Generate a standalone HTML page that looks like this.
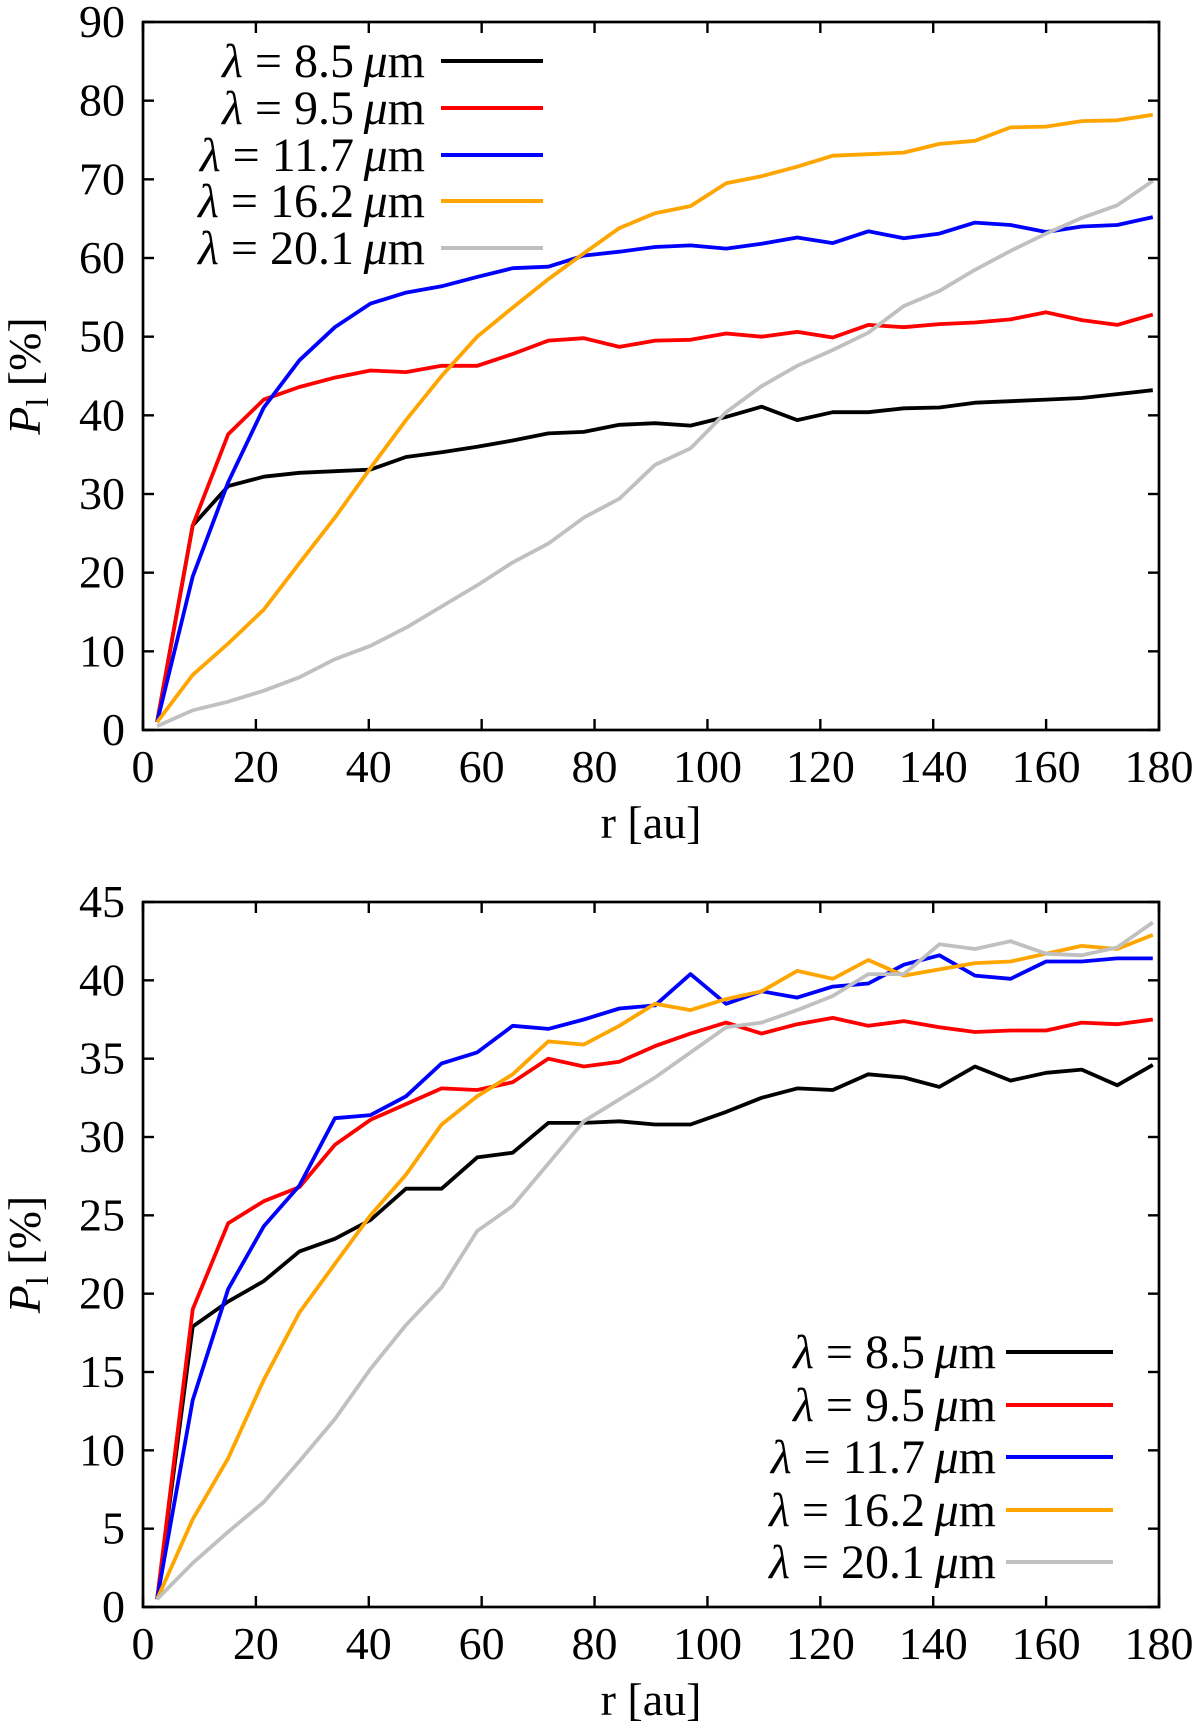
<!DOCTYPE html>
<html><head><meta charset="utf-8"><style>
html,body{margin:0;padding:0;background:#fff}
svg text{font-family:"Liberation Serif",serif;fill:#000}
</style></head><body>
<svg id="fig" width="1200" height="1724" viewBox="0 0 1200 1724" xmlns="http://www.w3.org/2000/svg"></svg>
<script>
const rVals=[2.5,8.8,15.1,21.4,27.7,34,40.3,46.6,52.9,59.2,65.5,71.8,78.1,84.4,90.7,97,103.3,109.6,115.9,122.2,128.5,134.8,141.1,147.4,153.7,160,166.3,172.6,178.9];
const seriesNames=["8.5","9.5","11.7","16.2","20.1"];
const seriesColors=["#000000","#ff0000","#0000ff","#ffa500","#c0c0c0"];
const xTicks=[0,20,40,60,80,100,120,140,160,180];
const topYTicks=[0,10,20,30,40,50,60,70,80,90];
const botYTicks=[0,5,10,15,20,25,30,35,40,45];
const top85=[1,26,31,32.2,32.7,32.9,33.1,34.7,35.3,36,36.8,37.7,37.9,38.8,39,38.7,39.8,41.1,39.4,40.4,40.4,40.9,41,41.6,41.8,42,42.2,42.7,43.2];
const top95=[1,26,37.6,42,43.6,44.8,45.7,45.5,46.3,46.3,47.8,49.5,49.8,48.7,49.5,49.6,50.4,50,50.6,49.9,51.5,51.2,51.6,51.8,52.2,53.1,52.1,51.5,52.8];
const top117=[1,19.5,31.5,41,47,51.2,54.2,55.6,56.4,57.6,58.7,58.9,60.3,60.8,61.4,61.6,61.2,61.8,62.6,61.9,63.4,62.5,63.1,64.5,64.2,63.3,64,64.2,65.2];
const top162=[1,7,11,15.3,21.2,27,33.3,39.4,45,50,53.7,57.3,60.6,63.8,65.7,66.6,69.5,70.4,71.6,73,73.2,73.4,74.5,74.9,76.6,76.7,77.4,77.5,78.2];
const top201=[0.5,2.5,3.6,5,6.7,9,10.7,13,15.7,18.4,21.3,23.7,27,29.4,33.7,35.8,40.4,43.7,46.3,48.3,50.5,53.9,55.8,58.5,60.9,63.1,65.1,66.7,69.8];
const bot85=[0.5,17.9,19.5,20.8,22.7,23.5,24.7,26.7,26.7,28.7,29,30.9,30.9,31,30.8,30.8,31.6,32.5,33.1,33,34,33.8,33.2,34.5,33.6,34.1,34.3,33.3,34.6];
const bot95=[0.5,19,24.5,25.9,26.8,29.5,31.1,32.1,33.1,33,33.5,35,34.5,34.8,35.8,36.6,37.3,36.6,37.2,37.6,37.1,37.4,37,36.7,36.8,36.8,37.3,37.2,37.5];
const bot117=[0.5,13.2,20.3,24.3,26.9,31.2,31.4,32.6,34.7,35.4,37.1,36.9,37.5,38.2,38.4,40.4,38.5,39.3,38.9,39.6,39.8,41,41.6,40.3,40.1,41.2,41.2,41.4,41.4];
const bot162=[0.5,5.6,9.5,14.5,18.8,21.9,25,27.6,30.8,32.6,34,36.1,35.9,37.1,38.5,38.1,38.8,39.3,40.6,40.1,41.3,40.3,40.7,41.1,41.2,41.7,42.2,42,42.9];
const bot201=[0.5,2.8,4.8,6.7,9.3,12,15.2,18,20.4,24,25.6,28.3,31,32.4,33.8,35.4,37,37.3,38.1,39,40.4,40.4,42.3,42,42.5,41.7,41.6,42.1,43.7];

const NS="http://www.w3.org/2000/svg";
const svg=document.getElementById('fig');
function mk(tag,attrs,parent){const e=document.createElementNS(NS,tag);for(const k in attrs)e.setAttribute(k,attrs[k]);(parent||svg).appendChild(e);return e;}

function panel(cfg){
  const g=mk('g',{});
  
  
  const L=143,R=1159,T=cfg.top,B=cfg.bottom,ymax=cfg.ymax;
  const xs=v=>L+(v/180)*(R-L);
  const ys=v=>B-(v/ymax)*(B-T);
  cfg.data.forEach((arr,i)=>{
    const p=mk('polyline',{points:arr.map((v,j)=>xs(rVals[j]).toFixed(1)+','+ys(v).toFixed(1)).join(' '),fill:'none',stroke:seriesColors[i],'stroke-width':3.8,'stroke-linejoin':'round'},g);
    
    
  });
  xTicks.forEach(t=>{
    const x=xs(t);
    mk('line',{x1:x,y1:B,x2:x,y2:B-11,stroke:'#000','stroke-width':2.4},g);
    mk('line',{x1:x,y1:T,x2:x,y2:T+11,stroke:'#000','stroke-width':2.4},g);
    const tx=mk('text',{x:x,y:B+52,'font-size':46,'text-anchor':'middle'},g);
    tx.textContent=t;
    
    
  });
  cfg.yTicks.forEach(t=>{
    const y=ys(t);
    mk('line',{x1:L,y1:y,x2:L+11,y2:y,stroke:'#000','stroke-width':2.4},g);
    mk('line',{x1:R,y1:y,x2:R-11,y2:y,stroke:'#000','stroke-width':2.4},g);
    const tx=mk('text',{x:L-18,y:y+15,'font-size':46,'text-anchor':'end'},g);
    tx.textContent=t;
    
    
  });
  const fr=mk('rect',{x:L,y:T,width:R-L,height:B-T,fill:'none',stroke:'#000','stroke-width':2.7},g);
  
  
  const xt=mk('text',{x:(L+R)/2,y:B+108,'font-size':46,'text-anchor':'middle'},g);
  xt.textContent='r [au]';
  
  
  const cy=(T+B)/2;
  const yt=mk('text',{x:0,y:0,'font-size':46,'text-anchor':'middle',transform:`translate(40,${cy}) rotate(-90)`},g);
  yt.innerHTML='<tspan font-style="italic">P</tspan><tspan font-size="32" dy="8">l</tspan><tspan dy="-8"> [%]</tspan>';
  
  
  cfg.legendY.forEach((ly,i)=>{
    const lg=mk('g',{},g);
    
    
    const t=mk('text',{x:cfg.legTextR,y:ly+16,'font-size':48,'text-anchor':'end'},lg);
    t.innerHTML='<tspan font-style="italic">λ</tspan> = '+seriesNames[i]+'<tspan font-style="italic">\u2009μ</tspan>m';
    mk('line',{x1:cfg.legX1,y1:ly,x2:cfg.legX2,y2:ly,stroke:seriesColors[i],'stroke-width':4},lg);
  });
}
panel({name:'top-panel',top:22,bottom:730,ymax:90,yTicks:topYTicks,data:[top85,top95,top117,top162,top201],legendY:[61,108,155,201,248],legTextR:425,legX1:441,legX2:543});
panel({name:'bottom-panel',top:902,bottom:1607,ymax:45,yTicks:botYTicks,data:[bot85,bot95,bot117,bot162,bot201],legendY:[1352,1405,1457,1510,1562],legTextR:996,legX1:1006,legX2:1113});
</script>
</body></html>
